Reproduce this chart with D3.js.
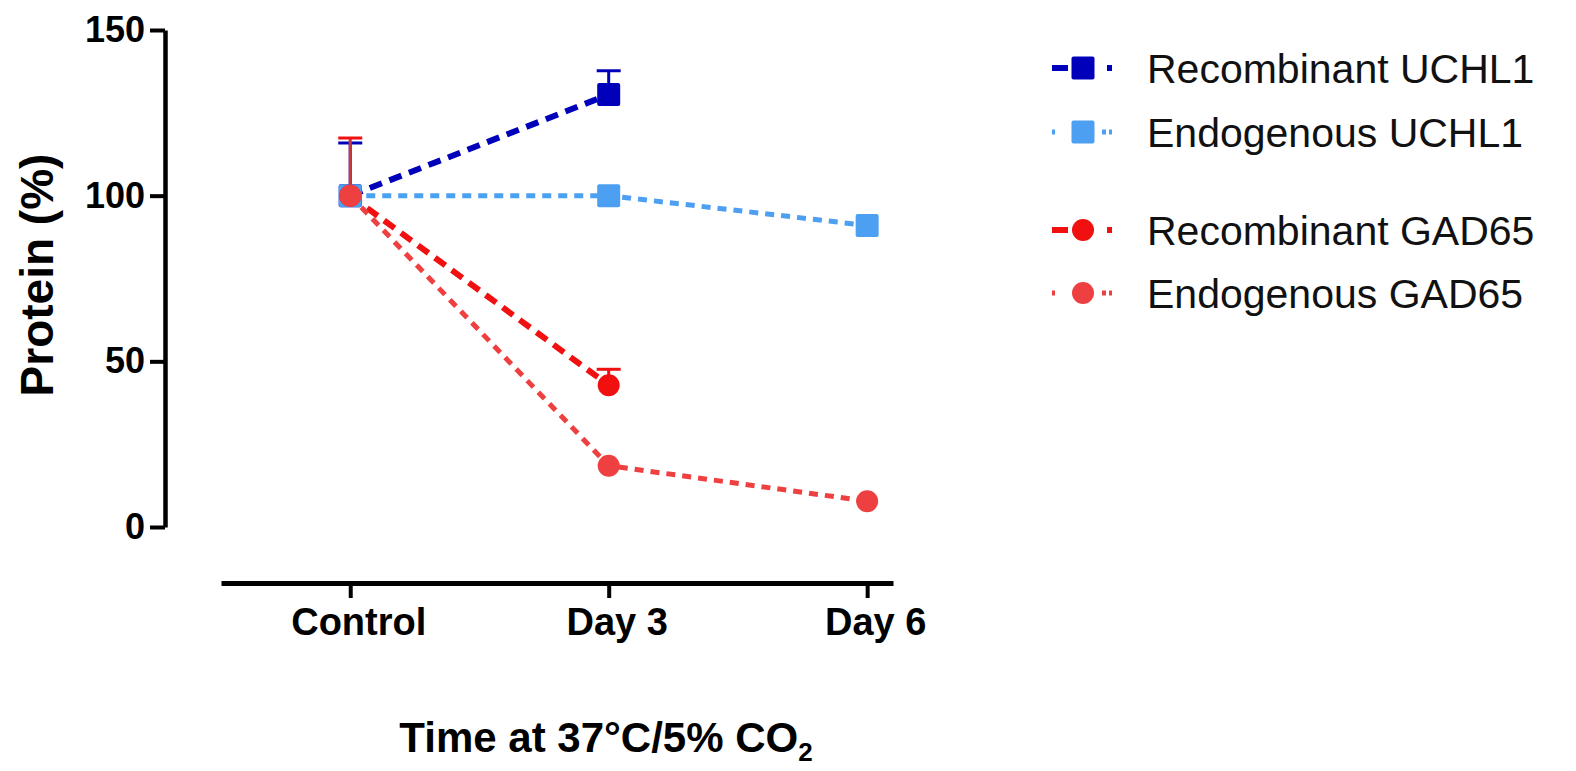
<!DOCTYPE html>
<html>
<head>
<meta charset="utf-8">
<script src="https://cdn.jsdelivr.net/npm/d3@7"></script>
<style>
  body { margin: 0; background: #fff; }
  svg { font-family: "Liberation Sans", Arial, sans-serif; }
</style>
</head>
<body>
<svg id="viz" width="1576" height="771"></svg>
<script>
// data
const days = ["Control", "Day 3", "Day 6"]
const recombUCHL1 = [100, 130.5]
const endoUCHL1 = [100, 100, 91]
const recombGAD65 = [100, 42.8]
const endoGAD65 = [100, 18.5, 7.8]
const recombUCHL1Err = [15.9, 7.2]
const recombGAD65Err = [17.4, 4.8]
const yTicks = [0, 50, 100, 150]

const series = [
  {name: "Recombinant UCHL1", values: recombUCHL1, err: recombUCHL1Err, color: "#0000bb", shape: "square", dash: "13,8", width: 6, legDash: "16,39,5"},
  {name: "Endogenous UCHL1", values: endoUCHL1, err: null, color: "#4d9ff2", shape: "square", dash: "9,7", width: 5, legDash: "3,47,4"},
  {name: "Recombinant GAD65", values: recombGAD65, err: recombGAD65Err, color: "#f01010", shape: "circle", dash: "13,8", width: 6, legDash: "16,39,5"},
  {name: "Endogenous GAD65", values: endoGAD65, err: null, color: "#ee4040", shape: "circle", dash: "9,7", width: 5, legDash: "3,47,4"}
]

const svg = d3.select("svg#viz")

const x = d3.scaleLinear().domain([-0.5, 2.1]).range([221, 893])
const y = d3.scaleLinear().domain([0, 150]).range([527, 30])

// y axis
const yAxis = d3.axisLeft(y).tickValues(yTicks).tickSize(15).tickSizeOuter(0).tickPadding(5)
const gy = svg.append("g").attr("transform", "translate(165,0)").call(yAxis)
gy.select(".domain").attr("stroke", "#000").attr("stroke-width", 4.5)
gy.selectAll(".tick line").attr("stroke", "#000").attr("stroke-width", 4)
gy.selectAll(".tick text").attr("font-size", 36).attr("font-weight", "bold").attr("fill", "#000")
  .attr("font-family", "Liberation Sans, Arial, sans-serif")

// x axis
const xAxis = d3.axisBottom(x).tickValues([0, 1, 2]).tickFormat(i => days[i]).tickSize(15).tickSizeOuter(0)
const gx = svg.append("g").attr("transform", "translate(0,583)").call(xAxis)
gx.select(".domain").attr("stroke", "#000").attr("stroke-width", 5)
gx.selectAll(".tick line").attr("stroke", "#000").attr("stroke-width", 4)
gx.selectAll(".tick text").attr("font-size", 38).attr("font-weight", "bold").attr("fill", "#000")
  .attr("font-family", "Liberation Sans, Arial, sans-serif")
  .attr("dy", null).attr("y", 52).attr("dx", 8)

// axis titles
svg.append("text")
  .attr("transform", "translate(53,275) rotate(-90)")
  .attr("text-anchor", "middle")
  .attr("font-size", 46).attr("font-weight", "bold")
  .text("Protein (%)")

const xt = svg.append("text")
  .attr("x", 606).attr("y", 752)
  .attr("text-anchor", "middle")
  .attr("font-size", 42).attr("font-weight", "bold")
xt.append("tspan").text("Time at 37°C/5% CO")
xt.append("tspan").attr("font-size", 26).attr("dy", 9).text("2")

const chart = svg.append("g")

// lines
const line = d3.line().x((d, i) => x(i)).y(d => y(d))
series.forEach(s => {
  chart.append("path")
    .attr("d", line(s.values))
    .attr("fill", "none")
    .attr("stroke", s.color)
    .attr("stroke-width", s.width)
    .attr("stroke-dasharray", s.dash)
})

function marker(g, s, cx, cy) {
  if (s.shape == "square") {
    g.append("rect").attr("x", cx - 11.5).attr("y", cy - 11.5)
      .attr("width", 23).attr("height", 23).attr("rx", 2)
      .attr("fill", s.color)
  } else {
    g.append("circle").attr("cx", cx).attr("cy", cy).attr("r", 11)
      .attr("fill", s.color)
  }
}

// error bars + markers
series.forEach(s => {
  s.values.forEach((v, i) => {
    if (s.err) {
      const top = y(v + s.err[i])
      chart.append("line").attr("x1", x(i)).attr("x2", x(i))
        .attr("y1", y(v)).attr("y2", top)
        .attr("stroke", i == 0 && s.shape == "circle" ? "#c83a3a" : s.color).attr("stroke-width", 3)
      chart.append("line").attr("x1", x(i) - 12).attr("x2", x(i) + 12)
        .attr("y1", top).attr("y2", top)
        .attr("stroke", s.color).attr("stroke-width", 3)
    }
    marker(chart, s, x(i), y(v))
  })
})

// legend
const legY = [68, 132, 230, 293]
const legend = svg.append("g")
series.forEach((s, k) => {
  const ly = legY[k]
  legend.append("line").attr("x1", 1052).attr("x2", 1112).attr("y1", ly).attr("y2", ly)
    .attr("stroke", s.color).attr("stroke-width", s.width).attr("stroke-dasharray", s.legDash)
  marker(legend, s, 1083, ly)
  legend.append("text").attr("x", 1147).attr("y", ly + 15)
    .attr("font-size", 41).attr("fill", "#111")
    .text(s.name)
})
</script>
</body>
</html>
